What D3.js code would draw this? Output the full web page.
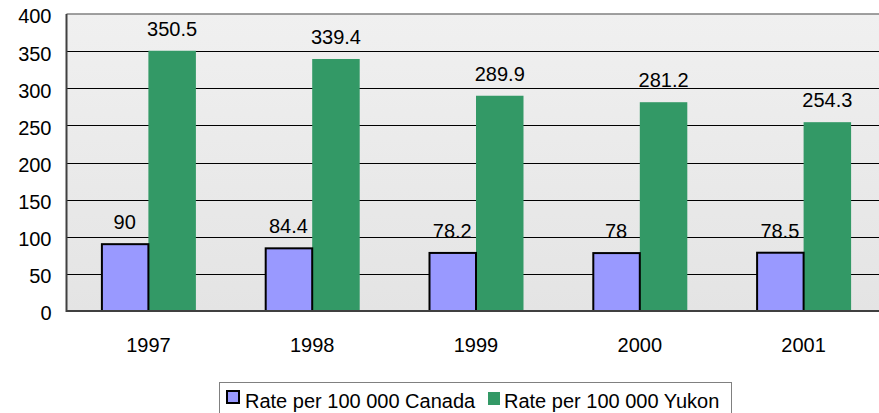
<!DOCTYPE html>
<html><head><meta charset="utf-8">
<script src="https://cdn.jsdelivr.net/npm/d3@7"></script>
<style>body{margin:0;background:#fff}svg{display:block}text{font-family:"Liberation Sans",Arial,sans-serif;fill:#000}</style>
</head><body><svg id="c" width="879" height="413"></svg>
<script>
const years = ["1997","1998","1999","2000","2001"];
const canada = [90, 84.4, 78.2, 78, 78.5];
const yukon = [350.5, 339.4, 289.9, 281.2, 254.3];
const yTicks = [0,50,100,150,200,250,300,350,400];
const seriesNames = ["Rate per 100 000 Canada","Rate per 100 000 Yukon"];
const colors = ["#9999ff","#339966"];

(function(){
const svg = d3.select("#c");
const pL = 66.5, pR = 885.5, pT = 14, pB = 311;
const FS = 20;
const x = d3.scaleBand().domain(years).range([pL, pR]);
const y = d3.scaleLinear().domain([0,400]).range([pB, pT]);

const defs = svg.append("defs");
const g = defs.append("linearGradient").attr("id","bg").attr("x1",0).attr("y1",0).attr("x2",0).attr("y2",1);
g.append("stop").attr("offset","0%").attr("stop-color","#f0f0f0");
g.append("stop").attr("offset","100%").attr("stop-color","#e4e4e4");
svg.append("rect").attr("x",pL).attr("y",pT).attr("width",pR-pL).attr("height",pB-pT).attr("fill","url(#bg)");

svg.selectAll("line.grid").data(yTicks.filter(d=>d>0 && d<400)).enter().append("line")
  .attr("x1",pL).attr("x2",pR).attr("y1",d=>Math.round(y(d))+0.5).attr("y2",d=>Math.round(y(d))+0.5)
  .attr("stroke","#000").attr("stroke-width",1);
svg.append("line").attr("x1",pL).attr("x2",pR).attr("y1",y(400)).attr("y2",y(400)).attr("stroke","#808080").attr("stroke-width",1.5);

const bw = 47.5;
const cx = d => x(d) + x.bandwidth()/2;
svg.selectAll("rect.yk").data(years).enter().append("rect")
  .attr("x",d=>cx(d)).attr("width",bw)
  .attr("y",(d,i)=>y(yukon[i])).attr("height",(d,i)=>pB-y(yukon[i]))
  .attr("fill",colors[1]);
svg.selectAll("rect.ca").data(years).enter().append("rect")
  .attr("x",d=>cx(d)-bw+1).attr("width",bw-1)
  .attr("y",(d,i)=>y(canada[i])).attr("height",(d,i)=>pB-y(canada[i]))
  .attr("fill",colors[0]).attr("stroke","#000").attr("stroke-width",2);

svg.selectAll("text.lc").data(years).enter().append("text")
  .attr("x",d=>cx(d)-bw/2).attr("y",(d,i)=>y(canada[i])-15)
  .attr("text-anchor","middle").attr("font-size",FS).text((d,i)=>canada[i]);
svg.selectAll("text.ly").data(years).enter().append("text")
  .attr("x",d=>cx(d)+bw/2).attr("y",(d,i)=>y(yukon[i])-15)
  .attr("text-anchor","middle").attr("font-size",FS).text((d,i)=>yukon[i]);

svg.append("line").attr("x1",pL).attr("x2",pR).attr("y1",pB).attr("y2",pB).attr("stroke","#404040").attr("stroke-width",2);
svg.append("line").attr("x1",pL).attr("x2",pL).attr("y1",pT).attr("y2",pB+1).attr("stroke","#404040").attr("stroke-width",2);

const ya = svg.append("g").attr("transform",`translate(${pL},2.5)`)
  .call(d3.axisLeft(y).tickValues(yTicks).tickSize(0).tickPadding(15));
ya.select(".domain").remove();
ya.selectAll("text").attr("font-size",FS).attr("font-family","Liberation Sans, Arial, sans-serif").attr("fill","#000");

const xa = svg.append("g").attr("transform",`translate(0,${pB})`)
  .call(d3.axisBottom(x).tickSize(0).tickPadding(27));
xa.select(".domain").remove();
xa.selectAll("text").attr("font-size",FS).attr("font-family","Liberation Sans, Arial, sans-serif").attr("fill","#000");

const lg = svg.append("g");
lg.append("rect").attr("x",219.5).attr("y",382.5).attr("width",512).attr("height",40).attr("fill","#fff").attr("stroke","#808080").attr("stroke-width",1);
lg.append("rect").attr("x",227).attr("y",391).attr("width",12).attr("height",12)
  .attr("fill",colors[0]).attr("stroke","#000").attr("stroke-width",2);
lg.append("text").attr("x",245).attr("y",408).attr("font-size",FS).text(seriesNames[0]);
lg.append("rect").attr("x",488).attr("y",392).attr("width",12).attr("height",13).attr("fill",colors[1]);
lg.append("text").attr("x",504).attr("y",408).attr("font-size",FS).text(seriesNames[1]);
})();
</script></body></html>
